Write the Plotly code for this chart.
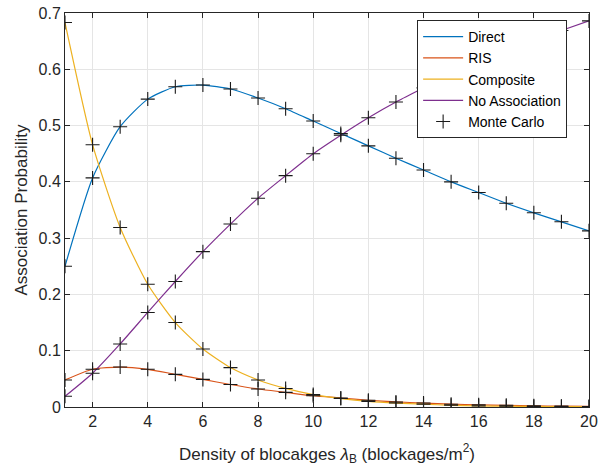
import plotly.graph_objects as go

x = list(range(1, 21))
direct = [0.250, 0.407, 0.498, 0.547, 0.569, 0.572, 0.565, 0.549, 0.530, 0.508,
          0.486, 0.464, 0.442, 0.421, 0.400, 0.381, 0.362, 0.345, 0.329, 0.313]
ris = [0.048, 0.067, 0.071, 0.067, 0.058, 0.049, 0.040, 0.032, 0.026, 0.020,
       0.016, 0.012, 0.009, 0.007, 0.005, 0.004, 0.003, 0.002, 0.0015, 0.001]
composite = [0.683, 0.466, 0.319, 0.218, 0.150, 0.103, 0.070, 0.048, 0.033, 0.022,
             0.015, 0.010, 0.007, 0.005, 0.003, 0.002, 0.0015, 0.001, 0.0007, 0.0005]
no_assoc = [0.019, 0.060, 0.112, 0.168, 0.223, 0.276, 0.325, 0.371, 0.411, 0.450,
            0.483, 0.514, 0.542, 0.567, 0.592, 0.613, 0.634, 0.652, 0.669, 0.686]

names = ["Direct", "RIS", "Composite", "No Association"]
series = [direct, ris, composite, no_assoc]
colors = ["#0072BD", "#D95319", "#EDB120", "#7E2F8E"]
xticks = list(range(2, 21, 2))
yticks = [0, 0.1, 0.2, 0.3, 0.4, 0.5, 0.6, 0.7]
yticklabels = ["0", "0.1", "0.2", "0.3", "0.4", "0.5", "0.6", "0.7"]

font = "Liberation Sans, Arial, sans-serif"
axcol = "#262626"

fig = go.Figure()
for n, s, c in zip(names, series, colors):
    fig.add_trace(go.Scatter(x=x, y=s, mode="lines", name=n,
                             line=dict(color=c, width=1.2, shape="spline", smoothing=0.6)))

mc_x, mc_y = [], []
for s in series:
    mc_x += x
    mc_y += s
fig.add_trace(go.Scatter(x=mc_x, y=mc_y, mode="markers", name="Monte Carlo",
                         marker=dict(symbol="cross-thin", size=10,
                                     line=dict(color="#1a1a1a", width=1.1))))

fig.update_layout(
    width=610, height=474,
    margin=dict(l=65, r=21, t=5, b=67),
    paper_bgcolor="white", plot_bgcolor="white",
    font=dict(family=font, size=16, color=axcol),
    legend=dict(x=0.672, y=0.982, xanchor="left", yanchor="top",
                bgcolor="white", bordercolor=axcol, borderwidth=1,
                font=dict(size=14, color="#000000"),
                tracegroupgap=0, itemwidth=40),
    showlegend=True,
)
fig.update_xaxes(range=[1, 20], tickvals=xticks, ticks="inside", ticklen=5,
                 tickcolor=axcol, showline=True, linecolor=axcol, linewidth=1,
                 mirror="ticks", showgrid=True, gridcolor="#e5e5e5", zeroline=False,
                 tickfont=dict(size=16, color=axcol), ticklabeloverflow="allow",
                 title=dict(text="Density of blocakges <i>λ</i><sub>B</sub> (blockages/m<sup>2</sup>)",
                            font=dict(size=17, color=axcol), standoff=18))
fig.update_yaxes(range=[0, 0.7], tickvals=yticks, ticktext=yticklabels,
                 ticks="inside", ticklen=5,
                 tickcolor=axcol, showline=True, linecolor=axcol, linewidth=1,
                 mirror="ticks", showgrid=True, gridcolor="#e5e5e5", zeroline=False,
                 tickfont=dict(size=16, color=axcol), ticklabeloverflow="allow",
                 title=dict(text="Association Probability", font=dict(size=17, color=axcol),
                            standoff=6))

fig.write_html("out.html", config={"displayModeBar": False},
               post_script="document.body.style.margin='0';")
